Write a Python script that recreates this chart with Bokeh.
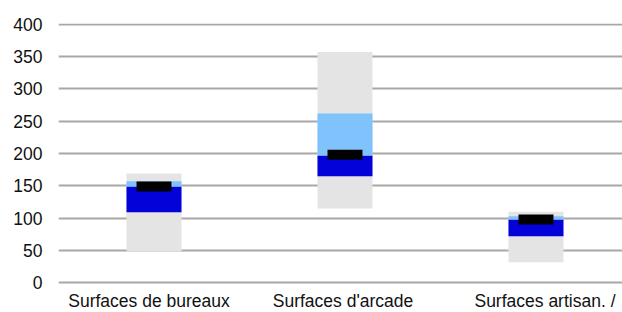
from bokeh.plotting import figure
from bokeh.models import Range1d, FixedTicker, ColumnDataSource
from bokeh.core.properties import value
from bokeh.embed import file_html
from bokeh.resources import INLINE

categories = ["Surfaces de bureaux", "Surfaces d'arcade", "Surfaces artisan. /"]
positions = [0.5, 1.5, 2.5]
min_vals = [49, 115, 32]
q1_vals = [109, 165, 72]
median_vals = [149, 197, 98]
q3_vals = [157, 262, 103]
max_vals = [169, 357, 110]
marker_vals = [149, 198, 98]
y_ticks = [0, 50, 100, 150, 200, 250, 300, 350, 400]
baseline = [0, 0, 0]

label_nudge = [-5, -2, 9]  # style: horizontal nudge of category labels (px)

src = ColumnDataSource(dict(x=positions, lo=min_vals, q1=q1_vals, med=median_vals,
                            q3=q3_vals, hi=max_vals, mk=marker_vals))
lab_src = ColumnDataSource(dict(x=positions, y=baseline, text=categories, dx=label_nudge))

p = figure(width=622, height=312, output_backend="svg", toolbar_location=None,
           x_range=Range1d(0, 2.953), y_range=Range1d(-45.8, 401),
           min_border_left=58, min_border_right=0, min_border_top=23, min_border_bottom=0)
p.outline_line_color = None
p.background_fill_color = "white"
p.xaxis.visible = False

bw = 0.288
p.vbar(x="x", bottom="lo", top="hi", width=bw, source=src, fill_color="#e4e4e4", line_color=None)
p.vbar(x="x", bottom="q1", top="med", width=bw, source=src, fill_color="#0303d9", line_color=None)
p.vbar(x="x", bottom="med", top="q3", width=bw, source=src, fill_color="#80c2fc", line_color=None)
p.rect(x="x", y="mk", width=0.183, height=10, height_units="screen", source=src,
       fill_color="#000000", line_color=None)

font = "Liberation Sans"
p.text(x="x", y="y", text="text", x_offset="dx", y_offset=18.5, source=lab_src,
       text_align="center", text_baseline="middle", text_font=value(font),
       text_font_size="17.5px", text_color="#111111")

p.xgrid.visible = False
p.ygrid.ticker = FixedTicker(ticks=y_ticks)
p.ygrid.grid_line_color = "#a8a8a8"
p.ygrid.grid_line_width = 2
p.ygrid.level = "underlay"

p.yaxis.ticker = FixedTicker(ticks=y_ticks)
p.yaxis.axis_line_color = None
p.yaxis.major_tick_line_color = None
p.yaxis.minor_tick_line_color = None
p.yaxis.major_tick_out = 0
p.yaxis.major_tick_in = 0
p.yaxis.major_label_standoff = 16
p.yaxis.major_label_text_font = font
p.yaxis.major_label_text_font_size = "17.5px"
p.yaxis.major_label_text_color = "#111111"

open("out.html", "w").write(file_html(p, INLINE))
